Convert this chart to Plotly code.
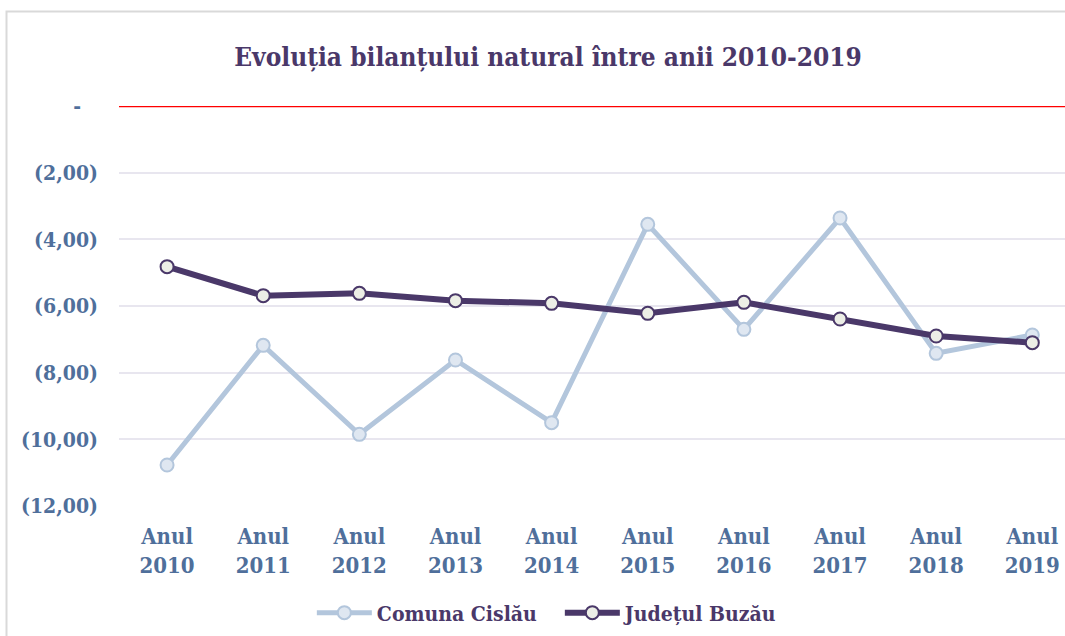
import plotly.graph_objects as go

categories = ["Anul<br>2010", "Anul<br>2011", "Anul<br>2012", "Anul<br>2013", "Anul<br>2014",
              "Anul<br>2015", "Anul<br>2016", "Anul<br>2017", "Anul<br>2018", "Anul<br>2019"]
cislau = [-10.77, -7.18, -9.85, -7.62, -9.50, -3.55, -6.70, -3.36, -7.42, -6.87]
buzau = [-4.82, -5.69, -5.62, -5.84, -5.92, -6.22, -5.89, -6.39, -6.90, -7.10]
y_tickvals = [0, -2, -4, -6, -8, -10, -12]
y_ticktext = ["-\u00a0\u00a0\u2009", "(2,00)", "(4,00)", "(6,00)", "(8,00)", "(10,00)", "(12,00)"]

SERIF = "DejaVu Serif Condensed, DejaVu Serif, Liberation Serif, serif"
PURPLE = "#4A3869"
TICK = "#4F6F9B"

fig = go.Figure()
fig.add_trace(go.Scatter(
    x=categories, y=cislau, name="Comuna Cislău", mode="lines+markers",
    line=dict(color="#B3C6DC", width=5),
    marker=dict(symbol="circle", size=13, color="#DFE7F1", line=dict(color="#B3C6DC", width=2)),
))
fig.add_trace(go.Scatter(
    x=categories, y=buzau, name="Județul Buzău", mode="lines+markers",
    line=dict(color=PURPLE, width=6),
    marker=dict(symbol="circle", size=13, color="#ECEEE6", line=dict(color=PURPLE, width=2)),
))

fig.update_layout(
    width=1065, height=636,
    paper_bgcolor="white", plot_bgcolor="white",
    margin=dict(l=119, r=0, t=106, b=130),
    title=dict(text="Evoluția bilanțului natural între anii 2010-2019",
               x=548 / 1065, xanchor="center", xref="container",
               y=1 - 57 / 636, yanchor="middle", yref="container",
               font=dict(family=SERIF, size=26, color=PURPLE, weight="bold")),
    showlegend=True,
    legend=dict(orientation="h", x=0.466, xanchor="center", y=-0.2675, yanchor="middle",
                font=dict(family=SERIF, size=21, color=PURPLE, weight="bold"), itemwidth=55,
                entrywidth=178, entrywidthmode="pixels",
                bgcolor="rgba(0,0,0,0)"),
    xaxis=dict(type="category", range=[-0.5, 9.34], showgrid=False, zeroline=False,
               showline=False, ticks="", ticklabelstandoff=15,
               tickfont=dict(family=SERIF, size=22, color=TICK, weight="bold")),
    yaxis=dict(range=[-12, 0], tickvals=y_tickvals, ticktext=y_ticktext,
               showgrid=True, gridcolor="#E8E6EF", gridwidth=2, zeroline=False,
               showline=False, ticks="", ticklabelstandoff=20,
               tickfont=dict(family=SERIF, size=21, color=TICK, weight="bold")),
    shapes=[
        dict(type="line", xref="paper", yref="y", x0=0, x1=1, y0=0, y1=0,
             line=dict(color="#FF0000", width=2.5)),
        dict(type="rect", xref="paper", yref="paper",
             x0=(6.5 - 119) / 946, x1=1.05, y0=(506 - 640) / 400, y1=(506 - 11.5) / 400,
             line=dict(color="#D9D9D9", width=2), fillcolor="rgba(0,0,0,0)", layer="below"),
    ],
)

fig.write_html("out.html", config={"displayModeBar": False},
               post_script="document.body.style.margin='0';document.body.style.overflow='hidden';")
